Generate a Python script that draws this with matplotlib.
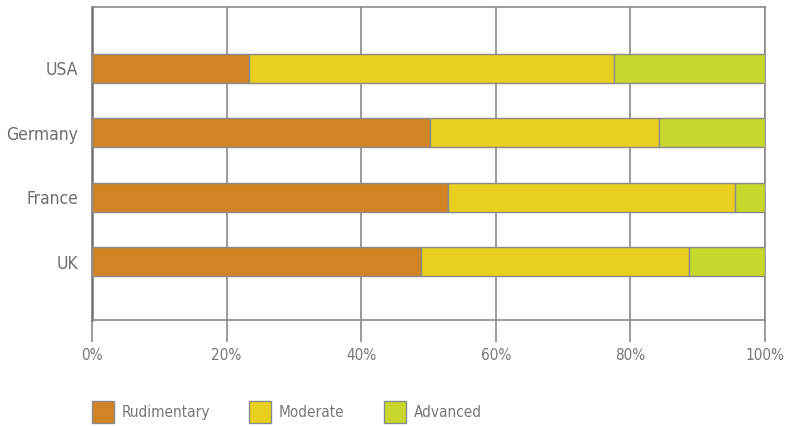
import numpy as np
import matplotlib.pyplot as plt
from matplotlib.ticker import PercentFormatter

# Share of each level per country (percent), bottom to top
countries = ["UK", "France", "Germany", "USA"]
rudimentary = [48.9, 52.9, 50.2, 23.4]
moderate = [39.8, 42.7, 34.1, 54.2]
advanced = [11.3, 4.4, 15.7, 22.4]

levels = ["Rudimentary", "Moderate", "Advanced"]
colours = ["#D08423", "#E9CF1E", "#C8D72B"]

plt.rcParams['font.family'] = ['DejaVu Sans']
plt.rcParams['font.stretch'] = 'condensed'
grey = "#777777"
line = "#8a8a8a"

fig = plt.figure(figsize=(7.96, 4.26), dpi=100)
ax = fig.add_axes([92 / 796, 106 / 426, 673 / 796, 313 / 426])

y = np.arange(len(countries))
left = np.zeros(len(countries))
for name, vals, col in zip(levels, [rudimentary, moderate, advanced], colours):
    ax.barh(y, vals, left=left, height=0.45, color=col, edgecolor=line,
            linewidth=1, label=name, zorder=3)
    left += np.array(vals)

ax.set_xlim(0, 100)
ax.set_ylim(-0.9, 3.95)
ax.set_xticks(np.arange(0, 101, 20))
ax.xaxis.set_major_formatter(PercentFormatter(decimals=0))
ax.set_yticks(y)
ax.set_yticklabels(countries)

ax.grid(axis='x', color=line, linewidth=1.2, zorder=0)
for s in ax.spines.values():
    s.set_color(line)
    s.set_linewidth(1.2)
ax.spines['left'].set_color("#707070")
ax.spines['left'].set_linewidth(1.8)

ax.tick_params(axis='x', length=16, width=1.2, color=line, pad=4,
               labelsize=11, labelcolor=grey)
ax.tick_params(axis='y', length=0, pad=10, labelsize=12.5, labelcolor="#6e6e6e")

leg = ax.legend(loc='upper left', bbox_to_anchor=(0.0, -0.26), ncol=3,
                frameon=False, fontsize=11, handlelength=1.45,
                handleheight=1.8, handletextpad=0.5, columnspacing=2.55,
                borderaxespad=0, borderpad=0)
for t in leg.get_texts():
    t.set_color(grey)

fig.savefig("out.png", dpi=100)
